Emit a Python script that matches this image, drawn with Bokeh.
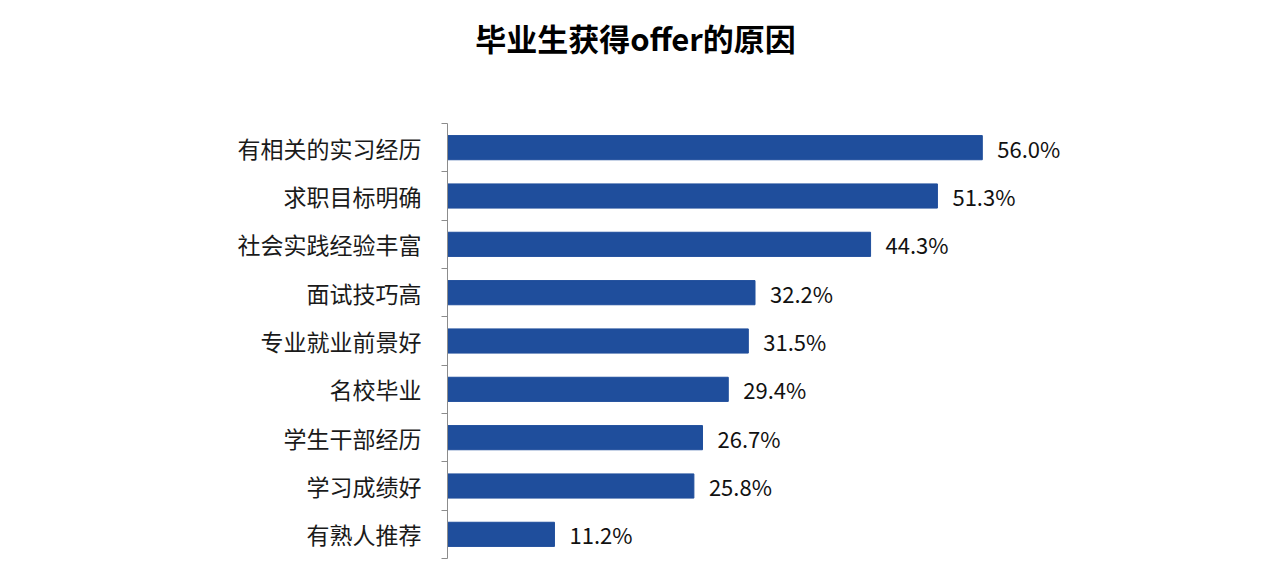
import numpy as np
from bokeh.plotting import figure
from bokeh.models import Range1d, FixedTicker, Label, ColumnDataSource
from bokeh.core.properties import value
from bokeh.embed import file_html
from bokeh.resources import INLINE

title_text = "毕业生获得offer的原因"
categories = ["有相关的实习经历", "求职目标明确", "社会实践经验丰富", "面试技巧高",
              "专业就业前景好", "名校毕业", "学生干部经历", "学习成绩好", "有熟人推荐"]
values = [56.0, 51.3, 44.3, 32.2, 31.5, 29.4, 26.7, 25.8, 11.2]

n = len(categories)
centers = [float(n - 1 - i) + 0.5 for i in range(n)]
labels = [f"{v:.1f}%" for v in values]

src = ColumnDataSource(dict(y=centers, v=values, lab=labels))

FONT = "Noto Sans CJK SC"

H = 571
BOTTOM = 13
FRAME_H = H - BOTTOM          # frame spans whole top area
BARS_H = 435                  # pixel height taken by the categories
y_top = n * FRAME_H / BARS_H

p = figure(width=1264, height=H, output_backend="svg", toolbar_location=None,
           x_range=Range1d(0, 80), y_range=Range1d(0, y_top),
           min_border_left=447, min_border_right=53, min_border_top=0, min_border_bottom=BOTTOM)
p.outline_line_color = None
p.xgrid.visible = False
p.ygrid.visible = False
p.xaxis.visible = False

p.hbar(y="y", right="v", left=0, height=0.5, source=src, color="#1F4E9C")
p.text(x="v", y="y", text="lab", source=src, x_offset=15, text_baseline="middle",
       text_align="left", text_font=value(FONT), text_font_size="22px", text_color="#111111")

ax = p.yaxis[0]
ax.bounds = (0, n)
ax.ticker = FixedTicker(ticks=centers, minor_ticks=[float(i) for i in range(n + 1)])
ax.major_label_overrides = {c: cat for c, cat in zip(centers, categories)}
ax.major_tick_out = 0
ax.major_tick_in = 0
ax.minor_tick_out = 6
ax.minor_tick_in = 0
ax.minor_tick_line_color = "#8c8c8c"
ax.axis_line_color = "#8c8c8c"
ax.major_label_standoff = 20
ax.major_label_text_font = FONT
ax.major_label_text_font_size = "23px"
ax.major_label_text_color = "#1a1a1a"

p.add_layout(Label(x=188, y=FRAME_H - 37, x_units="screen", y_units="screen", text=title_text,
                   text_align="center", text_baseline="middle", text_font=FONT,
                   text_font_size="31px", text_font_style="bold", text_color="#000000"))

open("out.html", "w").write(file_html(p, INLINE))
